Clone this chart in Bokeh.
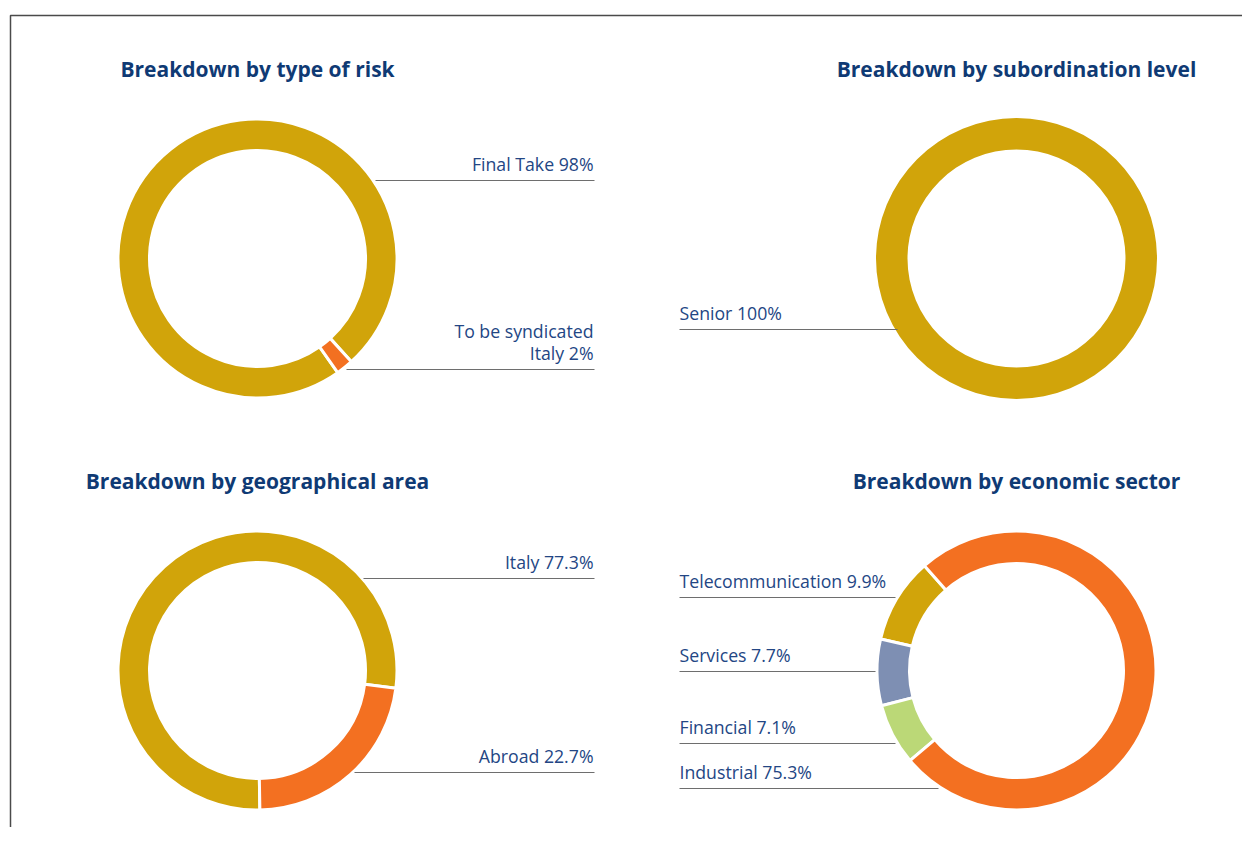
import math
from bokeh.plotting import figure
from bokeh.models import Range1d
from bokeh.core.properties import value
from bokeh.embed import file_html
from bokeh.resources import INLINE

# ---------------- data ----------------
risk_cats = ["Final Take", "To be syndicated\nItaly"]
risk_vals = [98, 2]

sub_cats = ["Senior"]
sub_vals = [100]

geo_cats = ["Italy", "Abroad"]
geo_vals = [77.3, 22.7]

sector_cats = ["Telecommunication", "Services", "Financial", "Industrial"]
sector_vals = [9.9, 7.7, 7.1, 75.3]

titles = ["Breakdown by type of risk", "Breakdown by subordination level",
          "Breakdown by geographical area", "Breakdown by economic sector"]

# ---------------- style ----------------
GOLD = "#D1A40A"
ORANGE = "#F37021"
BLUEGRAY = "#7E8FB3"
GREEN = "#BBD877"
TITLE_C = "#0F3A74"
LABEL_C = "#234684"
LINE_C = "#6E6E6E"
FONT = "Open Sans"

W, H = 1242, 827
PH = 843  # reference page height, used to flip y

def Y(y):
    return PH - y

p = figure(width=W, height=H, output_backend="svg", toolbar_location=None,
           x_range=Range1d(0, W), y_range=Range1d(PH - H, PH),
           min_border=0, border_fill_color="white", background_fill_color="white")
p.axis.visible = False
p.grid.visible = False
p.outline_line_color = None

# frame
p.line([10, 10, 1270], [Y(850), Y(15), Y(15)], line_color="#4A4A4A", line_width=1.5)

def donut(cx, cy, vals, colors, start_deg, r_in, r_out, gap=True):
    total = float(sum(vals))
    a = math.radians(start_deg)
    starts, ends = [], []
    for v in vals:
        span = 2 * math.pi * v / total
        starts.append(a)
        ends.append(a + span)
        a += span
    if len(vals) == 1:
        p.annulus(x=[cx], y=[Y(cy)], inner_radius=r_in, outer_radius=r_out,
                  fill_color=colors[0], line_color=None)
        return
    p.annular_wedge(x=[cx] * len(vals), y=[Y(cy)] * len(vals),
                    inner_radius=r_in, outer_radius=r_out,
                    start_angle=starts, end_angle=ends,
                    fill_color=colors, line_color="white" if gap else None,
                    line_width=3)

def title(x, y, t):
    p.text(x=[x], y=[Y(y)], text=[t], text_align="center", text_baseline="middle",
           text_font=value(FONT), text_font_style="bold", text_font_size="21px",
           text_color=TITLE_C)

def label(text_lines, x, line_y, x0, x1, align):
    for i, t in enumerate(reversed(text_lines)):
        p.text(x=[x], y=[Y(line_y - 16.5 - i * 22)], text=[t], text_align=align,
               text_baseline="middle", text_font=value(FONT),
               text_font_size="17.7px", text_color=LABEL_C)
    p.segment(x0=[x0], y0=[Y(line_y)], x1=[x1], y1=[Y(line_y)],
              line_color=LINE_C, line_width=1.2)

def fmt(v):
    return ("%g" % v) + "%"

R_OUT, R_IN = 139.5, 108

# chart 1
title(257, 68, titles[0])
donut(257, 258, risk_vals, [GOLD, ORANGE], -47.7, R_IN, R_OUT)
l1 = (risk_cats[0] + " " + fmt(risk_vals[0])).split("\n")
label(l1, 593, 180, 375, 594, "right")
l2 = (risk_cats[1] + " " + fmt(risk_vals[1])).split("\n")
label(l2, 593, 369, 346, 594, "right")

# chart 2
title(1016, 68, titles[1])
donut(1016, 258, sub_vals, [GOLD], 90, R_IN + 1, R_OUT + 1)
label([sub_cats[0] + " " + fmt(sub_vals[0])], 679, 329, 679, 897, "left")

# chart 3
title(257, 480, titles[2])
donut(257, 670, geo_vals, [GOLD, ORANGE], -7.3, R_IN, R_OUT)
label([geo_cats[0] + " " + fmt(geo_vals[0])], 593, 578, 363, 594, "right")
label([geo_cats[1] + " " + fmt(geo_vals[1])], 593, 772, 354, 594, "right")

# chart 4
title(1016, 480, titles[3])
donut(1016, 670, sector_vals, [GOLD, BLUEGRAY, GREEN, ORANGE], 131.3, R_IN - 1, R_OUT)
sec_pos = [(597, 895), (671, 875), (743, 895), (788, 938)]
for c, v, (ly, x1) in zip(sector_cats, sector_vals, sec_pos):
    label([c + " " + fmt(v)], 679, ly, 679, x1, "left")

open("out.html", "w").write(file_html(p, INLINE))
